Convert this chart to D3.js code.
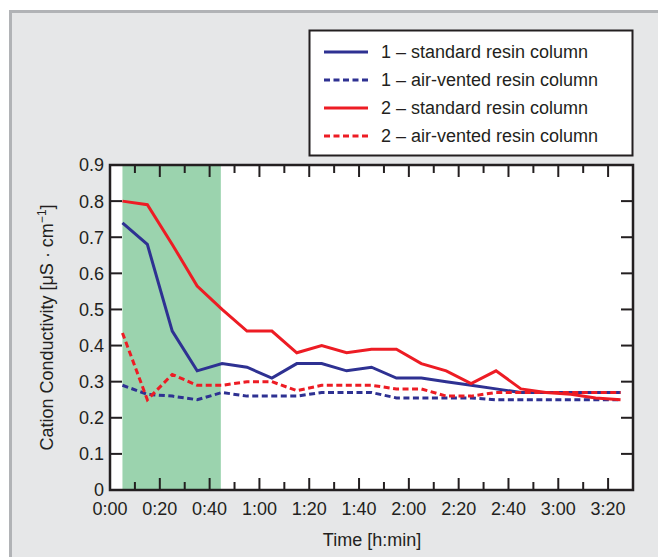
<!DOCTYPE html>
<html>
<head>
<meta charset="utf-8">
<script src="https://cdn.jsdelivr.net/npm/d3@7"></script>
<style>
  html, body { margin: 0; padding: 0; background: #ffffff; }
  svg { display: block; font-family: "Liberation Sans", Arial, Helvetica, sans-serif; }
</style>
</head>
<body>
<svg id="chart" width="658" height="557"></svg>
<script>
// ---- data ----
const timesMin = [5, 15, 25, 35, 45, 55, 65, 75, 85, 95, 105, 115, 125, 135, 145, 155, 165, 175, 185, 195, 205];
const std1 =  [0.74, 0.68, 0.44, 0.33, 0.35, 0.34, 0.31, 0.35, 0.35, 0.33, 0.34, 0.31, 0.31, 0.30, 0.29, 0.28, 0.27, 0.27, 0.27, 0.27, 0.27];
const vent1 = [0.29, 0.265, 0.26, 0.25, 0.27, 0.26, 0.26, 0.26, 0.27, 0.27, 0.27, 0.255, 0.255, 0.255, 0.255, 0.25, 0.25, 0.25, 0.25, 0.25, 0.25];
const std2 =  [0.80, 0.79, 0.68, 0.565, 0.50, 0.44, 0.44, 0.38, 0.40, 0.38, 0.39, 0.39, 0.35, 0.33, 0.295, 0.33, 0.28, 0.27, 0.265, 0.255, 0.25];
const vent2 = [0.435, 0.25, 0.32, 0.29, 0.29, 0.30, 0.30, 0.275, 0.29, 0.29, 0.29, 0.28, 0.28, 0.26, 0.26, 0.27, 0.27, 0.27, 0.27, 0.27, 0.27];
const seriesNames = ["1 \u2013 standard resin column", "1 \u2013 air-vented resin column", "2 \u2013 standard resin column", "2 \u2013 air-vented resin column"];
const xTickMinutes = [0, 20, 40, 60, 80, 100, 120, 140, 160, 180, 200];
const xTickLabels = ["0:00", "0:20", "0:40", "1:00", "1:20", "1:40", "2:00", "2:20", "2:40", "3:00", "3:20"];
const yTicks = [0, 0.1, 0.2, 0.3, 0.4, 0.5, 0.6, 0.7, 0.8, 0.9];
const yTickLabels = ["0", "0.1", "0.2", "0.3", "0.4", "0.5", "0.6", "0.7", "0.8", "0.9"];
const bandMinutes = [5, 44.5];

// ---- styles ----
const BLUE = "#2e3192", RED = "#ed1c24", GREEN = "#9bd3ae", INK = "#231f20";
const seriesStyle = [
  {data: std1, color: BLUE, dash: null},
  {data: vent1, color: BLUE, dash: "6,3.5"},
  {data: std2, color: RED, dash: null},
  {data: vent2, color: RED, dash: "6,3.5"}
];

const svg = d3.select("#chart");

// panel
svg.append("rect").attr("x", 10.5).attr("y", 11.5).attr("width", 660).attr("height", 560)
  .attr("fill", "#e6e7e8").attr("stroke", "#b1b3b6").attr("stroke-width", 3);

const L = 110, R = 633, T = 165, B = 490;
const x = d3.scaleLinear().domain([0, 210]).range([L, R]);
const y = d3.scaleLinear().domain([0, 0.9]).range([B, T]);

// plot area
svg.append("rect").attr("x", L).attr("y", T).attr("width", R - L).attr("height", B - T).attr("fill", "#ffffff");
svg.append("rect").attr("x", x(bandMinutes[0])).attr("y", T).attr("width", x(bandMinutes[1]) - x(bandMinutes[0]))
  .attr("height", B - T).attr("fill", GREEN);

// ticks (inward on all sides)
const tickG = svg.append("g").attr("stroke", INK).attr("stroke-width", 2);
d3.range(10, 210, 10).forEach(m => {
  const len = (m % 20 === 0) ? 12 : 8;
  tickG.append("line").attr("x1", x(m)).attr("x2", x(m)).attr("y1", B).attr("y2", B - len);
  tickG.append("line").attr("x1", x(m)).attr("x2", x(m)).attr("y1", T).attr("y2", T + len);
});
yTicks.slice(1, -1).forEach(v => {
  tickG.append("line").attr("x1", L).attr("x2", L + 12).attr("y1", y(v)).attr("y2", y(v));
  tickG.append("line").attr("x1", R).attr("x2", R - 12).attr("y1", y(v)).attr("y2", y(v));
});

// lines
const line = d3.line().x((d, i) => x(timesMin[i])).y(d => y(d));
seriesStyle.forEach(s => {
  svg.append("path").datum(s.data).attr("d", line).attr("fill", "none")
    .attr("stroke", s.color).attr("stroke-width", 3)
    .attr("stroke-dasharray", s.dash).attr("stroke-linejoin", "miter");
});

// frame
svg.append("rect").attr("x", L).attr("y", T).attr("width", R - L).attr("height", B - T)
  .attr("fill", "none").attr("stroke", INK).attr("stroke-width", 2.5);

// tick labels
const FS = 18;
svg.append("g").selectAll("text").data(yTicks).join("text")
  .attr("x", L - 6).attr("y", d => y(d)).attr("dy", "0.36em").attr("text-anchor", "end")
  .attr("font-size", FS).attr("fill", INK).text((d, i) => yTickLabels[i]);
svg.append("g").selectAll("text").data(xTickMinutes).join("text")
  .attr("x", d => x(d)).attr("y", 515).attr("text-anchor", "middle")
  .attr("font-size", FS).attr("fill", INK).text((d, i) => xTickLabels[i]);

// axis titles
svg.append("text").attr("x", 372).attr("y", 546).attr("text-anchor", "middle")
  .attr("font-size", FS).attr("fill", INK).text("Time [h:min]");
const yl = svg.append("text").attr("transform", `translate(53, ${(T + B) / 2}) rotate(-90)`)
  .attr("text-anchor", "middle").attr("font-size", FS).attr("fill", INK);
yl.append("tspan").text("Cation Conductivity [\u03bcS \u00b7 cm");
yl.append("tspan").attr("dy", -7).attr("font-size", 12).text("\u22121");
yl.append("tspan").attr("dy", 7).text("]");

// legend
const lg = svg.append("g");
lg.append("rect").attr("x", 309.5).attr("y", 30.5).attr("width", 323).attr("height", 125)
  .attr("fill", "#ffffff").attr("stroke", INK).attr("stroke-width", 2);
seriesStyle.forEach((s, i) => {
  const yy = 52 + i * 28;
  lg.append("line").attr("x1", 324).attr("x2", 368).attr("y1", yy).attr("y2", yy)
    .attr("stroke", s.color).attr("stroke-width", 3).attr("stroke-dasharray", s.dash);
  lg.append("text").attr("x", 381).attr("y", yy).attr("dy", "0.36em")
    .attr("font-size", FS).attr("fill", INK).text(seriesNames[i]);
});
</script>
</body>
</html>
